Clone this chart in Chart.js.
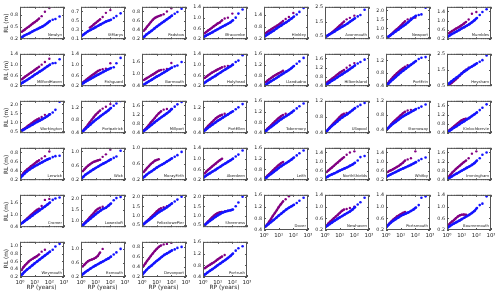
<!DOCTYPE html>
<html><head><meta charset="utf-8">
<script src="https://cdn.jsdelivr.net/npm/chart.js@4.4.0/dist/chart.umd.min.js"></script>
<style>
html,body{margin:0;padding:0;background:#fff;width:500px;height:293px;overflow:hidden;}
body{position:relative;}
canvas{position:absolute;}
</style></head><body>
<script>
const stations = ["Newlyn","StMarys","Padstow","Ilfracombe","Hinkley","Avonmouth","Newport","Mumbles",
"MilfordHaven","Fishguard","Barmouth","Holyhead","Llandudno","HilbreIsland","PortErin","Heysham",
"Workington","Portpatrick","Millport","PortEllen","Tobermory","Ullapool","Stornoway","Kinlochbervie",
"Lerwick","Wick","MorayFirth","Aberdeen","Leith","NorthShields","Whitby","Immingham",
"Cromer","Lowestoft","FelixstowePier","Sheerness","Dover","Newhaven","Portsmouth","Bournemouth",
"Weymouth","Exmouth","Devonport","Portrush"];
const yMin  = [0.2,0.1,0.2,0.2,0.2,0.3,0.4,0.2, 0.2,0.2,0.4,0.2,0.4,0.4,0.4,0.45, 0.4,0.4,0.4,0.4,0.4,0.4,0.3,0.4, 0.2,0.2,0.2,0.2,0.4,0.2,0.2,0.4, 0.4,0.7,0.4,0.4,0.4,0.2,0.2,0.2, 0.2,0.2,0.2,0.4];
const yMax  = [1.0,0.8,0.9,1.4,1.8,2.5,2.2,1.6, 1.4,1.4,2.0,1.4,1.6,1.8,1.4,2.5, 2.2,1.4,1.8,1.4,1.6,1.2,1.2,1.8, 0.9,1.1,1.0,1.4,1.6,1.6,1.6,1.8, 2.0,2.2,2.1,2.1,1.6,1.4,1.4,1.4, 1.1,1.2,0.9,1.6];
const yStep = [0.1,0.1,0.1,0.2,0.2,0.5,0.5,0.2, 0.2,0.2,0.2,0.2,0.2,0.2,0.2,0.5, 0.5,0.2,0.2,0.2,0.2,0.2,0.2,0.2, 0.1,0.2,0.2,0.2,0.2,0.2,0.2,0.2, 0.2,0.5,0.5,0.5,0.2,0.2,0.2,0.2, 0.2,0.2,0.1,0.2];
const xTickLabels = ["10\u2070","10\u00B9","10\u00B2","10\u00B3"];
const xTickValues = [1,10,100,1000];

// return periods (years) of the plotted points
const blueRP   = [1.1,1.5,2,3,4.5,7,10,15,22,33,50,75,110,170,260,500];
const purpleRP = [1.3,1.7,2.2,3,4,5.5,7.5,10,14,20,30,50,100];

// return levels (m)
const blueRL = [
[0.22,0.26,0.29,0.32,0.35,0.39,0.42,0.45,0.48,0.51,0.55,0.60,0.65,0.68,0.70,0.76],
[0.17,0.20,0.23,0.27,0.30,0.33,0.36,0.39,0.42,0.45,0.48,0.50,0.52,0.56,0.60,0.66],
[0.22,0.26,0.30,0.34,0.38,0.43,0.47,0.51,0.55,0.59,0.63,0.67,0.71,0.75,0.79,0.86],
[0.28,0.32,0.36,0.41,0.46,0.52,0.57,0.62,0.67,0.72,0.77,0.83,0.90,1.00,1.15,1.30],
[0.33,0.40,0.46,0.54,0.62,0.72,0.80,0.88,0.96,1.04,1.13,1.22,1.32,1.42,1.55,1.75],
[0.45,0.55,0.62,0.72,0.82,0.95,1.05,1.15,1.25,1.35,1.48,1.60,1.72,1.85,1.95,2.30],
[0.45,0.55,0.62,0.72,0.82,0.93,1.03,1.13,1.23,1.35,1.48,1.60,1.70,1.75,1.78,2.15],
[0.30,0.36,0.41,0.47,0.53,0.60,0.66,0.72,0.78,0.85,0.93,1.02,1.12,1.25,1.38,1.50],
[0.28,0.33,0.37,0.43,0.49,0.56,0.62,0.68,0.74,0.80,0.87,0.94,1.00,1.05,1.06,1.20],
[0.27,0.32,0.36,0.42,0.47,0.53,0.58,0.63,0.68,0.73,0.78,0.83,0.87,0.90,1.05,1.25],
[0.42,0.50,0.56,0.64,0.71,0.80,0.87,0.94,1.01,1.09,1.17,1.25,1.32,1.38,1.42,1.60],
[0.30,0.35,0.40,0.46,0.52,0.58,0.64,0.70,0.76,0.82,0.88,0.94,1.00,1.10,1.15,1.35],
[0.42,0.47,0.52,0.58,0.64,0.70,0.76,0.82,0.88,0.94,1.00,1.07,1.15,1.23,1.32,1.45],
[0.45,0.50,0.56,0.63,0.70,0.78,0.85,0.92,0.99,1.06,1.14,1.22,1.30,1.38,1.45,1.55],
[0.42,0.48,0.54,0.61,0.68,0.76,0.82,0.88,0.94,1.00,1.06,1.12,1.18,1.24,1.28,1.30],
[0.55,0.65,0.75,0.88,1.00,1.13,1.25,1.37,1.48,1.60,1.70,1.80,1.90,2.00,2.10,2.40],
[0.50,0.56,0.62,0.70,0.78,0.87,0.95,1.03,1.10,1.18,1.26,1.35,1.45,1.55,1.70,2.15],
[0.42,0.48,0.53,0.60,0.67,0.75,0.81,0.87,0.93,0.99,1.05,1.11,1.18,1.25,1.32,1.40],
[0.45,0.52,0.58,0.67,0.76,0.86,0.94,1.02,1.10,1.18,1.26,1.35,1.45,1.55,1.65,1.75],
[0.45,0.50,0.55,0.61,0.67,0.73,0.78,0.83,0.88,0.93,0.98,1.03,1.08,1.14,1.20,1.30],
[0.45,0.50,0.56,0.63,0.70,0.78,0.85,0.92,0.98,1.04,1.10,1.17,1.24,1.32,1.40,1.50],
[0.42,0.47,0.52,0.58,0.63,0.69,0.74,0.79,0.83,0.87,0.92,0.97,1.02,1.06,1.10,1.15],
[0.40,0.45,0.50,0.56,0.61,0.67,0.72,0.77,0.81,0.85,0.89,0.93,0.97,1.00,1.04,1.10],
[0.45,0.50,0.56,0.63,0.70,0.78,0.85,0.92,0.99,1.06,1.14,1.22,1.30,1.40,1.50,1.65],
[0.25,0.30,0.34,0.39,0.43,0.47,0.50,0.53,0.56,0.59,0.62,0.65,0.67,0.70,0.72,0.73],
[0.25,0.30,0.35,0.40,0.45,0.50,0.54,0.58,0.62,0.66,0.70,0.74,0.78,0.82,0.86,1.02],
[0.25,0.29,0.33,0.38,0.42,0.47,0.51,0.55,0.58,0.62,0.66,0.70,0.74,0.78,0.82,0.90],
[0.30,0.35,0.40,0.46,0.52,0.58,0.64,0.70,0.76,0.82,0.88,0.94,1.00,1.08,1.15,1.30],
[0.45,0.50,0.56,0.63,0.70,0.78,0.85,0.92,0.98,1.04,1.10,1.17,1.24,1.32,1.40,1.50],
[0.30,0.35,0.40,0.45,0.50,0.56,0.61,0.66,0.71,0.76,0.82,0.88,0.95,1.05,1.20,1.25],
[0.35,0.40,0.44,0.50,0.55,0.61,0.66,0.71,0.76,0.81,0.86,0.92,0.98,1.05,1.12,1.18],
[0.45,0.50,0.55,0.62,0.68,0.75,0.81,0.87,0.93,0.99,1.06,1.14,1.25,1.35,1.50,1.60],
[0.55,0.62,0.69,0.78,0.87,0.97,1.06,1.15,1.24,1.33,1.42,1.52,1.62,1.75,1.82,1.87],
[0.72,0.82,0.90,1.00,1.10,1.21,1.30,1.39,1.47,1.55,1.60,1.70,1.80,1.95,2.05,2.10],
[0.50,0.60,0.68,0.78,0.88,1.00,1.10,1.20,1.28,1.36,1.45,1.55,1.65,1.75,1.85,2.00],
[0.45,0.55,0.63,0.73,0.83,0.94,1.02,1.10,1.17,1.22,1.26,1.29,1.33,1.50,1.70,2.00],
[0.50,0.55,0.60,0.67,0.74,0.82,0.89,0.96,1.03,1.10,1.16,1.21,1.26,1.32,1.40,1.50],
[0.30,0.35,0.40,0.46,0.52,0.58,0.63,0.68,0.73,0.78,0.83,0.90,0.98,1.07,1.15,1.30],
[0.30,0.38,0.44,0.51,0.57,0.63,0.68,0.72,0.76,0.80,0.85,0.90,0.97,1.05,1.30,1.35],
[0.28,0.33,0.37,0.42,0.47,0.52,0.57,0.62,0.67,0.72,0.78,0.85,0.95,1.05,1.10,1.35],
[0.22,0.28,0.33,0.39,0.44,0.50,0.55,0.60,0.65,0.70,0.75,0.80,0.85,0.90,0.98,1.05],
[0.25,0.30,0.34,0.39,0.44,0.49,0.53,0.57,0.61,0.65,0.69,0.73,0.78,0.84,0.90,1.00],
[0.25,0.30,0.34,0.39,0.43,0.48,0.52,0.56,0.60,0.64,0.67,0.70,0.73,0.75,0.78,0.80],
[0.45,0.50,0.55,0.61,0.67,0.74,0.80,0.86,0.92,0.98,1.05,1.12,1.20,1.30,1.38,1.45]
];
const purpleRL = [
[0.38,0.41,0.44,0.48,0.51,0.55,0.59,0.62,0.66,0.71,0.77,0.88,0.97],
[null,null,null,null,0.35,0.38,0.42,0.45,0.49,0.53,0.58,0.67,0.73],
[0.38,0.42,0.47,0.52,0.57,0.62,0.66,0.68,0.70,0.72,0.74,0.80,0.87],
[0.42,0.47,0.52,0.57,0.62,0.68,0.73,0.78,0.82,0.90,0.97,1.00,1.15],
[0.50,0.56,0.62,0.68,0.74,0.80,0.86,0.92,1.00,1.10,1.20,1.30,1.50],
[0.50,0.58,0.66,0.76,0.86,0.98,1.10,1.22,1.35,1.50,1.65,1.75,1.90],
[0.50,0.58,0.66,0.76,0.86,0.96,1.05,1.15,1.27,1.40,1.50,1.55,1.60],
[0.45,0.50,0.55,0.60,0.65,0.70,0.75,0.80,0.87,0.95,1.05,1.30,1.38],
[0.45,0.50,0.55,0.60,0.65,0.70,0.75,0.80,0.86,0.92,1.00,1.10,1.22],
[0.33,0.38,0.43,0.49,0.54,0.60,0.65,0.70,0.76,0.80,0.83,0.85,1.05],
[0.70,0.75,0.80,0.86,0.92,0.98,1.04,1.10,1.16,1.20,1.22,1.25,1.55],
[0.50,0.55,0.60,0.65,0.70,0.74,0.78,0.82,0.86,0.90,0.93,0.95,1.00],
[0.55,0.60,0.65,0.70,0.75,0.80,0.84,0.88,0.92,0.97,null,null,null],
[0.55,0.60,0.66,0.72,0.78,0.85,0.92,0.98,1.04,1.10,1.20,1.30,1.40],
[0.48,0.55,0.61,0.68,0.74,0.80,0.85,0.90,0.95,1.00,1.05,null,null],
[0.55,0.60,0.68,0.78,0.88,1.00,1.12,1.25,1.38,1.50,1.62,null,null],
[0.55,0.62,0.68,0.76,0.84,0.92,1.00,1.08,1.15,1.22,1.30,1.42,1.45],
[0.45,0.52,0.58,0.66,0.74,0.82,0.90,0.97,1.03,1.10,1.16,1.22,1.30],
[0.50,0.58,0.66,0.76,0.86,0.96,1.06,1.16,1.26,1.35,1.42,1.45,1.45],
[0.50,0.56,0.62,0.68,0.74,0.80,0.86,0.90,0.94,0.97,1.00,null,null],
[0.50,0.56,0.62,0.69,0.76,0.83,0.90,0.96,1.02,1.08,1.12,null,null],
[0.45,0.50,0.55,0.60,0.65,0.70,0.75,0.80,0.85,0.88,0.90,null,null],
[0.42,0.48,0.54,0.60,0.65,0.70,0.75,0.80,0.85,0.90,0.93,0.95,null],
[0.50,0.56,0.62,0.69,0.76,0.83,0.90,0.96,1.00,1.03,1.05,null,null],
[0.30,0.35,0.39,0.43,0.46,0.50,0.53,0.56,0.60,0.63,0.67,0.72,0.82],
[0.45,0.50,0.55,0.60,0.64,0.68,0.71,0.73,0.75,0.77,0.85,0.92,1.05],
[0.40,0.45,0.50,0.55,0.60,0.64,0.68,0.70,0.72,null,null,null,null],
[0.45,0.52,0.58,0.64,0.70,0.76,0.82,0.88,0.94,1.00,null,null,null],
[0.50,0.56,0.62,0.69,0.76,0.83,0.90,0.96,1.02,1.08,null,null,null],
[0.55,0.62,0.68,0.75,0.82,0.90,0.97,1.04,1.12,1.20,1.30,1.40,1.45],
[0.55,0.60,0.63,0.67,0.72,0.77,0.82,0.88,0.95,1.05,1.10,1.15,1.45],
[0.55,0.63,0.72,0.80,0.88,0.96,1.03,1.10,1.18,1.25,1.35,1.55,1.65],
[0.60,0.66,0.73,0.82,0.90,1.00,1.08,1.16,1.25,1.32,1.45,1.75,1.80],
[0.80,0.88,0.96,1.06,1.16,1.26,1.36,1.46,1.55,1.60,1.65,null,null],
[0.55,0.64,0.72,0.82,0.92,1.02,1.12,1.22,1.32,1.40,1.45,1.50,null],
[0.50,0.60,0.70,0.80,0.90,1.00,1.08,1.14,1.18,1.20,1.22,1.25,null],
[0.52,0.60,0.68,0.78,0.88,0.98,1.08,1.18,1.28,1.38,1.45,1.55,1.60],
[0.35,0.42,0.48,0.54,0.60,0.66,0.72,0.78,0.85,0.90,0.92,0.95,1.00],
[0.35,0.42,0.48,0.55,0.60,0.66,0.70,0.74,0.78,0.82,null,null,null],
[0.38,0.44,0.49,0.54,0.60,0.66,0.70,0.72,0.73,0.72,0.70,null,null],
[0.38,0.45,0.50,0.55,0.60,0.64,0.67,0.70,0.73,0.78,0.85,0.90,null],
[0.50,0.55,0.60,0.65,0.68,0.70,0.72,0.75,0.80,0.90,1.00,1.20,1.22],
[0.42,0.47,0.52,0.57,0.62,0.67,0.72,0.76,0.80,0.83,0.85,0.86,0.88],
[0.70,0.74,0.78,0.82,0.86,0.90,0.95,1.00,1.05,1.10,1.15,null,null]
];

// ---------- layout ----------
const PL = 19.5, PX = 61, PT = 4.7, PY = 47.06, PW = 44, PH = 37;
const BLUE = 'rgb(20,20,255)', PURPLE = 'rgb(130,0,130)';
const FONT = '"DejaVu Sans"';

function isBottom(i){ const r = Math.floor(i/8), c = i%8; return r===5 || (r===4 && c>=4); }

// titles overlay
const tc = document.createElement('canvas');
tc.width = 500; tc.height = 293; tc.style.left='0px'; tc.style.top='0px';
document.body.appendChild(tc);
const tctx = tc.getContext('2d');
tctx.fillStyle = '#222';
tctx.font = '5.8px ' + FONT;
tctx.textAlign = 'center'; tctx.textBaseline = 'middle';
for (let r = 0; r < 6; r++) {
  const cy = PT + r*PY + PH/2;
  tctx.save(); tctx.translate(6.5, cy); tctx.rotate(-Math.PI/2); tctx.fillText('RL (m)', 0, 0); tctx.restore();
}
for (let c = 0; c < 4; c++) {
  tctx.fillText('RP (years)', PL + c*PX + PW/2, 287);
}

const framePlugin = {
  id: 'frame',
  afterDraw(chart) {
    const {ctx, chartArea: a, scales: {x, y}} = chart;
    ctx.save();
    ctx.strokeStyle = '#555'; ctx.lineWidth = 1;
    ctx.strokeRect(a.left + 0.5, a.top + 0.5, a.right - a.left - 1, a.bottom - a.top - 1);
    ctx.beginPath();
    y.ticks.forEach(t => {
      const py = Math.round(y.getPixelForValue(t.value)) + 0.5;
      ctx.moveTo(a.left, py); ctx.lineTo(a.left + 2, py);
      ctx.moveTo(a.right, py); ctx.lineTo(a.right - 2, py);
    });
    for (let d = 1; d <= 1000; d *= 10) {
      for (let m = 1; m <= 9; m++) {
        const v = d*m; if (v > 1000) break;
        const px = Math.round(x.getPixelForValue(v)) + 0.5;
        const L = m === 1 ? 2 : 1;
        ctx.moveTo(px, a.bottom); ctx.lineTo(px, a.bottom - L);
        ctx.moveTo(px, a.top); ctx.lineTo(px, a.top + L);
      }
    }
    ctx.stroke();
    const name = chart.options.plugins.frame.name;
    ctx.font = '3.8px ' + FONT;
    const w = ctx.measureText(name).width;
    ctx.fillStyle = '#fff';
    ctx.fillRect(a.right - w - 3, a.bottom - 7.5, w + 2, 5.5);
    ctx.fillStyle = '#222'; ctx.textAlign = 'right'; ctx.textBaseline = 'alphabetic';
    ctx.fillText(name, a.right - 2, a.bottom - 3);
    ctx.restore();
  }
};

stations.forEach((name, i) => {
  const r = Math.floor(i/8), c = i%8;
  const bottom = isBottom(i);
  const left = Math.round(PL + c*PX), top = Math.round(PT + r*PY);
  const YW = 20, PADR = 4, PADT = 3, XH = bottom ? 12 : 2;
  const w = YW + PW + PADR, h = PADT + PH + XH;
  const cv = document.createElement('canvas');
  cv.width = w; cv.height = h;
  cv.style.left = (left - YW) + 'px'; cv.style.top = (top - PADT) + 'px';
  cv.style.width = w + 'px'; cv.style.height = h + 'px';
  document.body.appendChild(cv);

  const blueData = blueRP.map((x, k) => ({x, y: blueRL[i][k]}));
  const purpleData = purpleRP.map((x, k) => ({x, y: purpleRL[i][k]}));

  new Chart(cv, {
    type: 'scatter',
    data: { datasets: [
      { data: blueData, showLine: true, borderColor: BLUE, borderWidth: 2.4, pointRadius: 1.3,
        pointBackgroundColor: BLUE, pointBorderWidth: 0, tension: 0,
        segment: { borderColor: s => s.p1.parsed.x > 120 ? 'rgba(0,0,0,0)' : BLUE } },
      { data: purpleData, showLine: true, borderColor: PURPLE, borderWidth: 2.2, pointRadius: 1.2,
        pointBackgroundColor: PURPLE, pointBorderWidth: 0, tension: 0,
        segment: { borderColor: s => s.p1.parsed.x > 22 ? 'rgba(0,0,0,0)' : PURPLE } }
    ]},
    options: {
      responsive: false, devicePixelRatio: 1, animation: false, events: [],
      layout: { padding: { left: 0, right: PADR, top: PADT, bottom: 0 } },
      plugins: { legend: { display: false }, tooltip: { enabled: false }, frame: { name } },
      scales: {
        x: { type: 'logarithmic', min: 1, max: 1000,
          grid: { display: false, drawTicks: false, tickLength: 0 }, border: { display: false },
          afterBuildTicks: s => { s.ticks = xTickValues.map(v => ({value: v})); },
          afterFit: s => { s.height = XH; s.paddingLeft = 0; s.paddingRight = 0; },
          ticks: { display: bottom, autoSkip: false, maxRotation: 0, padding: 2,
            font: { family: 'DejaVu Sans', size: 5.4 }, color: '#222',
            callback: v => { const k = xTickValues.indexOf(v); return k >= 0 ? xTickLabels[k] : ''; } } },
        y: { type: 'linear', min: yMin[i], max: yMax[i],
          grid: { display: false, drawTicks: false, tickLength: 0 }, border: { display: false },
          afterBuildTicks: s => {
            const st = yStep[i], out = [];
            for (let k = Math.ceil(yMin[i]/st - 1e-6); k*st <= yMax[i] + 1e-6; k++) out.push({value: +(k*st).toFixed(2)});
            s.ticks = out;
          },
          afterFit: s => { s.width = YW; },
          ticks: { padding: 2, font: { family: 'DejaVu Sans', size: 4.8 }, color: '#222',
            callback: v => Number(v).toFixed(1) } }
      }
    },
    plugins: [framePlugin]
  });
});
</script>
</body></html>
